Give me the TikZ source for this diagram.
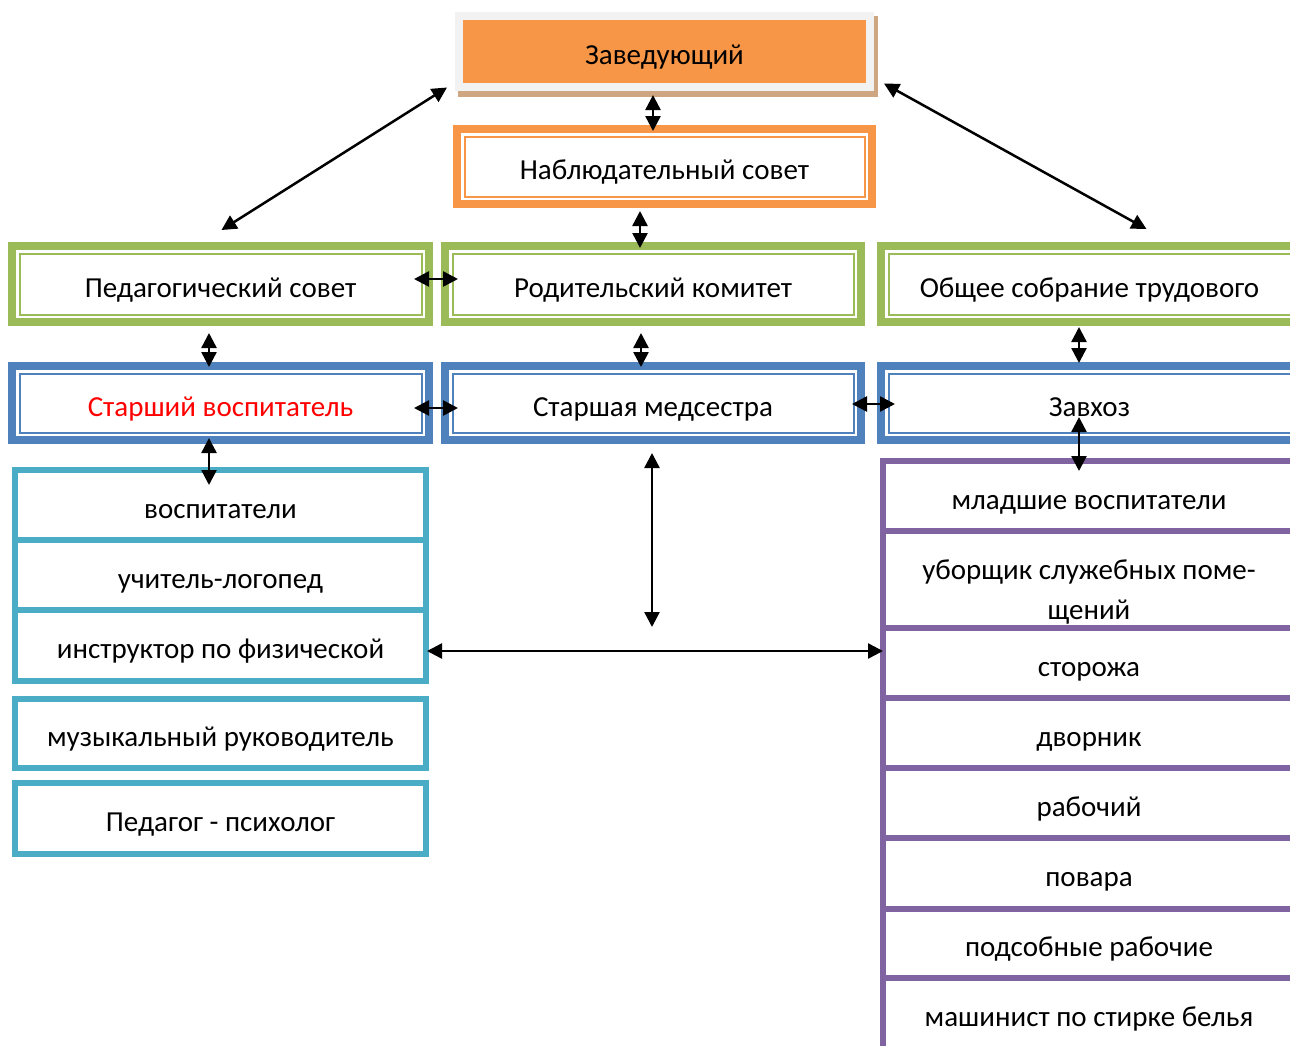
\documentclass[tikz,border=0pt]{standalone}
\usepackage{fontspec}
\setmainfont{Carlito}
\usetikzlibrary{arrows.meta,backgrounds}

\definecolor{orangeacc}{RGB}{247,150,70}
\definecolor{greenacc}{RGB}{155,187,89}
\definecolor{blueacc}{RGB}{79,129,189}
\definecolor{cyanacc}{RGB}{75,172,198}
\definecolor{purpleacc}{RGB}{128,100,162}
\definecolor{grayframe}{RGB}{242,242,242}
\definecolor{tanshadow}{RGB}{206,166,130}

\tikzset{
  ramka/.style={draw=#1, line width=8pt, inner sep=0pt, text height=26pt, text depth=0pt,
    path picture={\draw[#1, line width=2pt] ([shift={(7.5pt,-7.5pt)}]path picture bounding box.north west) rectangle ([shift={(-7.5pt,7.5pt)}]path picture bounding box.south east);}},
  spisok/.style={draw=#1, line width=6pt, inner sep=0pt, text height=26pt, text depth=0pt},
  svyaz/.style={{Triangle[length=15pt,width=15pt]}-{Triangle[length=15pt,width=15pt]}, line width=2.5pt},
}

\begin{document}
\begin{tikzpicture}[x=1pt, y=-1pt, font=\fontsize{29}{35}\selectfont]
    \useasboundingbox (0,0) rectangle (1290,1045);

    %verh
    \node[fill=orangeacc, draw=grayframe, line width=8pt, inner sep=0pt, text height=26pt, text depth=0pt,
          minimum width=411pt, minimum height=70.5pt] (zav) at (664.5,51.25) {Заведующий};
    \begin{scope}[on background layer]
        \fill[tanshadow] ([shift={(3,4)}]zav.north west) rectangle ([shift={(4,6)}]zav.south east);
    \end{scope}
    \node[ramka=orangeacc, minimum width=415pt, minimum height=75pt] (nab) at (664.5,166.5) {Наблюдательный совет};

    %sovety
    \node[ramka=greenacc, minimum width=417pt, minimum height=76pt] (ped) at (220.5,284) {Педагогический совет};
    \node[ramka=greenacc, minimum width=416pt, minimum height=76pt] (rod) at (653,284) {Родительский комитет};
    \node[ramka=greenacc, minimum width=417pt, minimum height=76pt] (obsh) at (1089.5,284) {Общее собрание трудового};

    %rukovoditeli
    \node[ramka=blueacc, minimum width=417pt, minimum height=74pt, text=red] (star) at (220.5,403) {Старший воспитатель};
    \node[ramka=blueacc, minimum width=416pt, minimum height=74pt] (med) at (653,403) {Старшая медсестра};
    \node[ramka=blueacc, minimum width=417pt, minimum height=74pt] (zavhoz) at (1089.5,403) {Завхоз};

    %pedagogi
    \node[spisok=cyanacc, minimum width=411pt, minimum height=70pt] (vosp) at (220.5,505) {воспитатели};
    \node[spisok=cyanacc, minimum width=411pt, minimum height=70pt] (uchit) at (220.5,575) {учитель-логопед};
    \node[spisok=cyanacc, minimum width=411pt, minimum height=71pt] (instr) at (220.5,645.5) {инструктор по физической};
    \node[spisok=cyanacc, minimum width=411pt, minimum height=69pt] (muz) at (220.5,733.5) {музыкальный руководитель};
    \node[spisok=cyanacc, minimum width=411pt, minimum height=71pt] (psih) at (220.5,818.5) {Педагог - психолог};

    %personal
    \node[spisok=purpleacc, minimum width=412pt, minimum height=70pt] (mlad) at (1089,496) {младшие воспитатели};
    \node[spisok=purpleacc, minimum width=412pt, minimum height=97pt, align=center, text height=80pt, text depth=0pt,
          font=\fontsize{29}{40}\selectfont] (ubor) at (1089,579.5) {уборщик служебных поме-\\щений};
    \node[spisok=purpleacc, minimum width=412pt, minimum height=70pt] (storozh) at (1089,663) {сторожа};
    \node[spisok=purpleacc, minimum width=412pt, minimum height=70pt] (dvor) at (1089,733) {дворник};
    \node[spisok=purpleacc, minimum width=412pt, minimum height=70pt] (rab) at (1089,803) {рабочий};
    \node[spisok=purpleacc, minimum width=412pt, minimum height=71pt] (povar) at (1089,873.5) {повара};
    \node[spisok=purpleacc, minimum width=412pt, minimum height=69pt] (podsob) at (1089,943.5) {подсобные рабочие};
    \node[spisok=purpleacc, minimum width=412pt, minimum height=71pt] (mash) at (1089,1013.5) {машинист по стирке белья};

    \coordinate (razvilka) at (652,627);

    %strelki
    \draw[svyaz] ([shift={(-8,-3)}]zav.south west) -- ([shift={(1,-12)}]ped.north);
    \draw[svyaz] ([shift={(10,-7)}]zav.south east) -- ([shift={(57,-13)}]obsh.north);
    \draw[svyaz] ([shift={(-11.5,4.5)}]zav.south) -- ([shift={(-11.5,6)}]nab.north);
    \draw[svyaz] ([shift={(-24.5,3)}]nab.south) -- ([shift={(-13,6)}]rod.north);
    \draw[svyaz] ([shift={(-19,-5)}]ped.east) -- ([shift={(17,-5)}]rod.west);
    \draw[svyaz] ([shift={(-11.5,7)}]ped.south) -- ([shift={(-11.5,5)}]star.north);
    \draw[svyaz] ([shift={(-12,7)}]rod.south) -- ([shift={(-12,5)}]med.north);
    \draw[svyaz] ([shift={(-10.5,1)}]obsh.south) -- ([shift={(-10.5,1)}]zavhoz.north);
    \draw[svyaz] ([shift={(-19,5)}]star.east) -- ([shift={(17,5)}]med.west);
    \draw[svyaz] ([shift={(-13,1)}]med.east) -- ([shift={(18,1)}]zavhoz.west);
    \draw[svyaz] ([shift={(-11.5,-6)}]star.south) -- ([shift={(-11.5,18)}]vosp.north);
    \draw[svyaz] ([shift={(-10.5,-27)}]zavhoz.south) -- ([shift={(-10,13)}]mlad.north);
    \draw[svyaz] ([shift={(-1,9)}]med.south) -- (razvilka);
    \draw[svyaz] ([shift={(-2,5.5)}]instr.east) -- ([shift={(3,-12)}]storozh.west);
\end{tikzpicture}
\end{document}
